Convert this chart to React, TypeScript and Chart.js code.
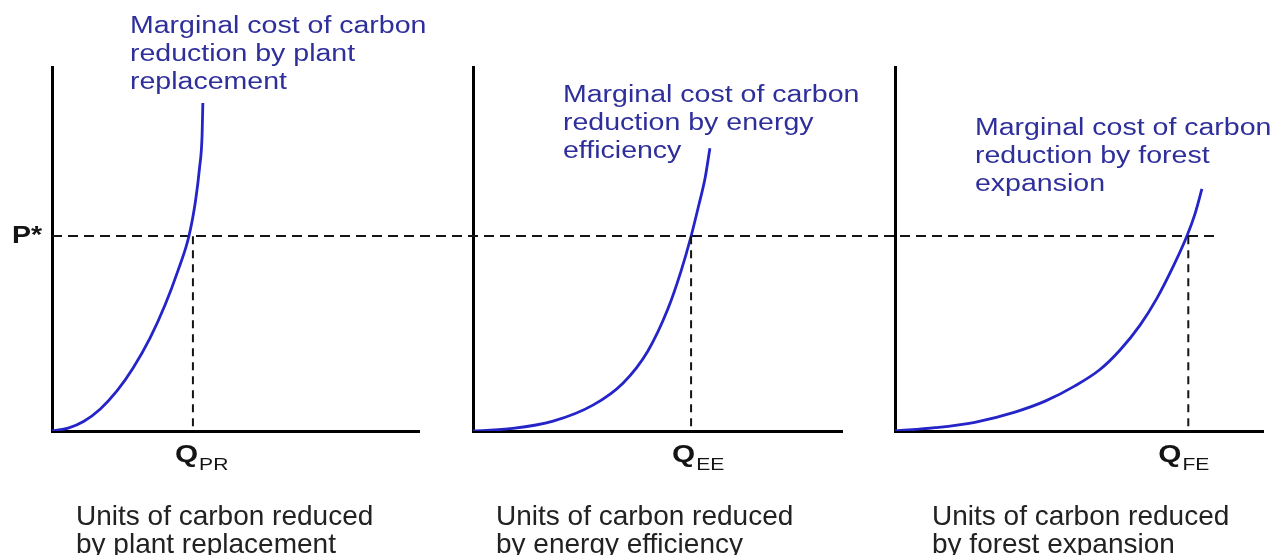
import React, { useEffect, useRef } from 'react';
import { Chart, registerables } from 'chart.js';

Chart.register(...registerables);

// ---------- data ----------
const priceLabel = 'P*';
const pStar = 53.5;
const yMax = 100;
const xMax = 10;
const pStarLineEnd = 8.78; // where the P* guide stops in the last panel (x units)

const plantX = [0, 0.44, 0.87, 1.31, 1.77, 2.21, 2.67, 3.08, 3.43, 3.73, 3.91, 4.02, 4.09, 4.11];
const plantY = [0, 0.8, 2.7, 6.0, 11.0, 17.3, 25.5, 34.6, 44.0, 53.5, 63.2, 72.3, 81.3, 90.1];

const efficiencyX = [0, 1.08, 2.17, 3.25, 4.07, 4.74, 5.28, 5.64, 5.91, 6.12, 6.29, 6.42];
const efficiencyY = [0, 0.7, 2.7, 7.1, 13.2, 22.0, 33.5, 44.0, 53.5, 62.1, 69.5, 77.7];

const forestX = [0, 1.09, 2.17, 3.26, 4.08, 4.89, 5.57, 6.11, 6.66, 7.12, 7.55, 7.93, 8.15, 8.34];
const forestY = [0, 0.9, 2.4, 5.2, 8.2, 12.4, 16.9, 22.2, 29.1, 36.5, 45.0, 53.5, 59.6, 66.5];

const quantities = [3.84, 5.91, 7.97];
const quantityMain = 'Q';
const quantitySubscripts = ['PR', 'EE', 'FE'];

const curveLabels = [
  ['Marginal cost of carbon', 'reduction by plant', 'replacement'],
  ['Marginal cost of carbon', 'reduction by energy', 'efficiency'],
  ['Marginal cost of carbon', 'reduction by forest', 'expansion'],
];
const axisTitles = [
  ['Units of carbon reduced', 'by plant replacement'],
  ['Units of carbon reduced', 'by energy efficiency'],
  ['Units of carbon reduced', 'by forest expansion'],
];

const seriesX = [plantX, efficiencyX, forestX];
const seriesY = [plantY, efficiencyY, forestY];

// ---------- layout / style ----------
const W = 1285;
const H = 555;
const DASH_ORIGIN = 52;
const FONT = '"Liberation Sans", Arial, Helvetica, sans-serif';
const SX = 1.24;
const CURVE_COLOR = '#2424c8';
const LABEL_COLOR = '#2f2f9c';
const INK = '#141414';

const LAYOUT = [
  { left: 0, width: 446, pad: { left: 52, right: 27, top: 67, bottom: 124 }, labelX: 130, labelY: 33, titleX: 76, qDx: -18, first: true, last: false },
  { left: 446, width: 422, pad: { left: 27, right: 26, top: 67, bottom: 124 }, labelX: 117, labelY: 102, titleX: 50, qDx: -19, first: false, last: false },
  { left: 868, width: 417, pad: { left: 27, right: 22, top: 67, bottom: 124 }, labelX: 107, labelY: 135, titleX: 64, qDx: -30, first: false, last: true },
];

function drawText(ctx: CanvasRenderingContext2D, text: string, x: number, y: number, font: string, color: string, sx: number) {
  ctx.save();
  ctx.font = font;
  ctx.fillStyle = color;
  ctx.textAlign = 'left';
  ctx.textBaseline = 'alphabetic';
  ctx.translate(x, y);
  ctx.scale(sx, 1);
  ctx.fillText(text, 0, 0);
  const w = ctx.measureText(text).width * sx;
  ctx.restore();
  return w;
}

function Panel({ index }: { index: number }) {
  const ref = useRef<HTMLCanvasElement | null>(null);
  const lay = LAYOUT[index];

  useEffect(() => {
    const canvas = ref.current;
    if (!canvas) return;
    const q = quantities[index];

    const annotate = {
      id: 'annotate' + index,
      beforeDatasetsDraw(chart: any) {
        const ctx: CanvasRenderingContext2D = chart.ctx;
        const xs = chart.scales.x;
        const ys = chart.scales.y;
        const y = Math.round(ys.getPixelForValue(pStar));
        const x0 = lay.first ? chart.chartArea.left : 0;
        const x1 = lay.last ? xs.getPixelForValue(pStarLineEnd) : chart.width;
        ctx.save();
        ctx.strokeStyle = INK;
        ctx.lineWidth = 2;
        ctx.setLineDash([10, 6]);
        ctx.lineDashOffset = lay.left + x0 - DASH_ORIGIN;
        ctx.beginPath();
        ctx.moveTo(x0, y);
        ctx.lineTo(x1, y);
        ctx.stroke();
        ctx.restore();
      },
      afterDraw(chart: any) {
        const ctx: CanvasRenderingContext2D = chart.ctx;
        const xs = chart.scales.x;
        const ys = chart.scales.y;
        const area = chart.chartArea;
        if (lay.first) {
          const y = ys.getPixelForValue(pStar);
          drawText(ctx, priceLabel, 12, y + 7, `bold 23px ${FONT}`, INK, SX);
        }
        const qx = xs.getPixelForValue(q) + lay.qDx;
        const wq = drawText(ctx, quantityMain, qx, area.bottom + 31, `bold 24px ${FONT}`, INK, SX);
        drawText(ctx, quantitySubscripts[index], qx + wq + 1, area.bottom + 39, `17px ${FONT}`, INK, SX);
        curveLabels[index].forEach((t, i) => {
          drawText(ctx, t, lay.labelX, lay.labelY + i * 28, `23px ${FONT}`, LABEL_COLOR, SX);
        });
        axisTitles[index].forEach((t, i) => {
          drawText(ctx, t, lay.titleX, area.bottom + 94 + i * 28, `28px ${FONT}`, '#222', 1);
        });
      },
    };

    const chart = new Chart(canvas, {
      type: 'line',
      data: {
        datasets: [
          {
            data: [
              { x: q, y: pStar },
              { x: q, y: 0 },
            ],
            borderColor: INK,
            borderWidth: 2,
            borderDash: [8, 6],
            pointRadius: 0,
            fill: false,
          },
          {
            data: seriesX[index].map((x, i) => ({ x, y: seriesY[index][i] })),
            borderColor: CURVE_COLOR,
            borderWidth: 2.8,
            pointRadius: 0,
            cubicInterpolationMode: 'monotone',
            fill: false,
          },
        ],
      },
      options: {
        responsive: false,
        animation: false,
        devicePixelRatio: 1,
        layout: { padding: lay.pad },
        plugins: { legend: { display: false }, tooltip: { enabled: false }, title: { display: false } },
        scales: {
          x: {
            type: 'linear',
            min: 0,
            max: xMax,
            grid: { display: false, drawTicks: false },
            ticks: { display: false },
            border: { display: true, color: '#000', width: 3 },
          },
          y: {
            type: 'linear',
            min: 0,
            max: yMax,
            grid: { display: false, drawTicks: false },
            ticks: { display: false },
            border: { display: true, color: '#000', width: 3 },
          },
        },
      },
      plugins: [annotate],
    } as any);

    return () => chart.destroy();
  }, [index]);

  return (
    <canvas
      ref={ref}
      width={lay.width}
      height={H}
      style={{ position: 'absolute', left: lay.left, top: 0, width: lay.width, height: H, display: 'block' }}
    />
  );
}

export default function App() {
  return (
    <div style={{ position: 'fixed', left: 0, top: 0, width: W, height: H, background: '#fff', overflow: 'hidden' }}>
      {LAYOUT.map((_, i) => (
        <Panel key={i} index={i} />
      ))}
    </div>
  );
}
